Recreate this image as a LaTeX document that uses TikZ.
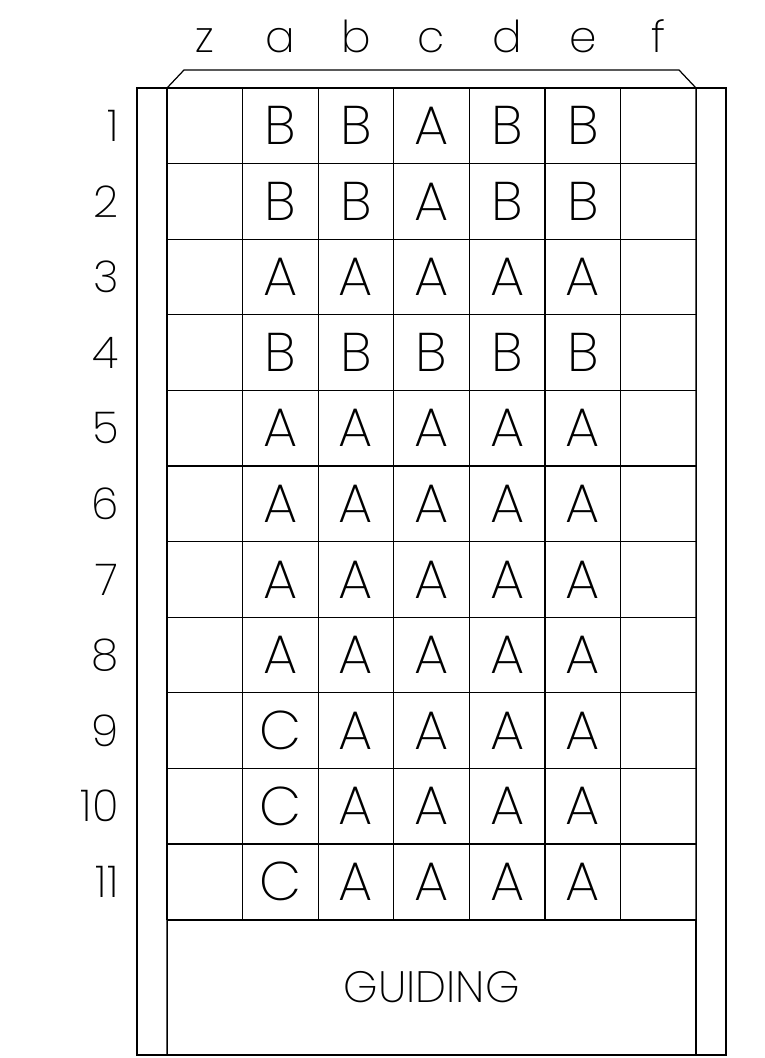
\documentclass[tikz,border=0pt]{standalone}
\usepackage{fontspec}
\newfontfamily\cadfont{Poppins}[UprightFont=* ExtraLight]
\usetikzlibrary{positioning}

\begin{document}
\begin{tikzpicture}[
    x=0.02cm, y=-0.02cm,
    frame/.style={line width=0.7pt},
    cell/.style={draw, line width=0.7pt, minimum size=1.512cm, inner sep=0pt, font=\cadfont\fontsize{31}{31}\selectfont},
    rowlabel/.style={anchor=east, inner sep=0pt, font=\cadfont\fontsize{25}{25}\selectfont},
    collabel/.style={anchor=base, inner sep=0pt, font=\cadfont\fontsize{25}{25}\selectfont},
    guidebox/.style={draw, line width=0.7pt, minimum width=10.58cm, minimum height=2.7cm, inner sep=0pt, font=\cadfont\fontsize{25}{25}\selectfont}
]
    \useasboundingbox (0,0) rectangle (764,1058);
    % outer frame and top bracket
    \draw[frame] (167,88) -- (137,88) -- (137,1055) -- (726,1055) -- (726,88) -- (696,88);
    \draw[frame] (167,1055) -- (167,88) -- (184,70) -- (679,70) -- (696,88) -- (696,1055);
    % column labels
    \foreach \t [count=\c from 0] in {z,a,b,c,d,e,f}
        \node[collabel] (col-\t) at ({204.8+75.6*\c}, 52) {\t};
    % rows
    \foreach \r/\row in {1/{B,B,A,B,B}, 2/{B,B,A,B,B}, 3/{A,A,A,A,A}, 4/{B,B,B,B,B},
                         5/{A,A,A,A,A}, 6/{A,A,A,A,A}, 7/{A,A,A,A,A}, 8/{A,A,A,A,A},
                         9/{C,A,A,A,A}, 10/{C,A,A,A,A}, 11/{C,A,A,A,A}} {
        \node[rowlabel] (n\r) at (119, {50.2+75.6*\r}) {\r};
        \node[cell] (z\r) at (204.8, {50.2+75.6*\r}) {};
        \foreach \t [count=\c] in \row
            \node[cell] (c\r-\c) at ({204.8+75.6*\c}, {50.2+75.6*\r}) {\t};
        \node[cell] (f\r) at (658.4, {50.2+75.6*\r}) {};
    }
    \node[guidebox] (guide) at (431.6, 987.5) {GUIDING};
\end{tikzpicture}
\end{document}
